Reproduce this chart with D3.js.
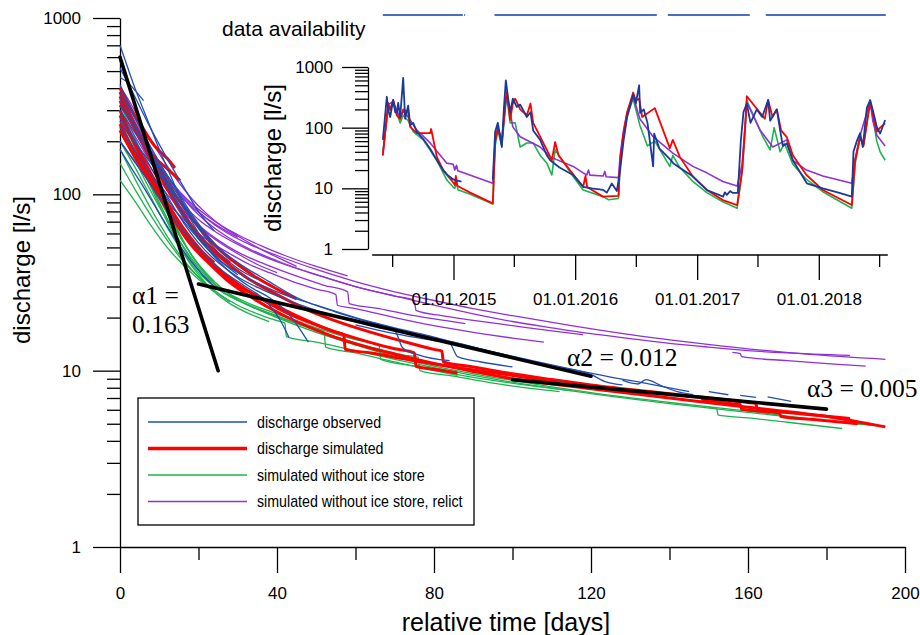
<!DOCTYPE html>
<html>
<head>
<meta charset="utf-8">
<script src="https://cdn.jsdelivr.net/npm/d3@7"></script>
<style>
body{margin:0;background:#fff}
svg{display:block;font-family:"Liberation Sans",Arial,sans-serif}
</style>
</head>
<body>
<svg width="920" height="635"></svg>
<script>
// ---- main chart: recession curves, [day, discharge l/s] ----
var obsCurves = [
  [[0,700],[2,520],[4,390],[7,265],[10,180],[14,112],[18,72],[22,52],[26,41]],
  [[0,460],[2,430],[4,385],[6,340]],
  [[0,420],[3,300],[6,215],[9,155],[12,112],[16,76],[20,56],[24,45],[30,35]],
  [[0,350],[3,265],[6,200],[10,140],[14,96],[18,67],[22,50],[27,38],[33,30],[38,26],[43,21],[46,17],[48,14.5]],
  [[0,300],[4,220],[8,160],[12,118],[16,86],[20,64],[25,47],[30,38],[35,33]],
  [[0,260],[3,205],[6,170],[10,130],[14,100],[18,76]],
  [[0,320],[4,235],[8,170],[12,124],[16,90],[20,66],[25,50],[30,41],[38,32],[45,26],[55,21.5],[65,18.5],[75,16.2],[85,14.5],[95,12.8],[105,11.4],[115,10.2],[125,9.2],[135,8.4],[145,7.6]],
  [[0,240],[5,160],[10,110],[15,76],[20,56],[25,43],[32,34],[40,28],[50,23.5],[60,20],[70,17.5],[80,15.5],[90,13.6],[100,12],[110,10.6],[120,9.5],[124,8.6],[128,8.3]],
  [[0,200],[5,140],[10,96],[15,67],[20,49],[26,37],[32,30],[37,25],[41,19],[43,15.5]],
  [[0,380],[3,290],[7,200],[11,140],[15,101],[19,73],[23,56],[28,43]],
  [[0,520],[2,430],[5,315],[8,232],[12,160],[16,112],[20,80],[24,62]],
  [[0,280],[4,200],[8,140],[12,98],[16,70],[20,53],[25,41],[30,34],[36,29],[42,25.5],[50,22],[58,19.5],[66,17.5],[70,16.8],[72,13.5],[76,12.3],[84,11.4]],
  [[0,180],[3,140],[6,110],[9,85],[12,66],[15,52],[18,42],[21,35],[24,30]],
  [[60,18.2],[70,16.2],[80,14.8],[84,14.3],[86,12],[92,11.2],[100,10.5]],
  [[128,8.8],[132,8.4],[134,8.9],[138,8.2],[142,7.6],[146,7.3]],
  [[150,7.6],[155,7.3]], [[158,7.25],[162,7.05]], [[165,7.1],[171,6.7]]
];
var simCurves = [
  [[0,400],[3,300],[6,232],[9,186],[12,160],[14,141]],
  [[0,340],[3,252],[6,192],[9,160],[12,140],[15.3,120]],
  [[0,300],[3,210],[6,150],[10,100],[14,70],[18,52],[22,42],[27,33],[33,26.5],[40,21.5],[50,17],[60,14.2],[70,12.4],[80,11],[90,9.9],[100,9],[110,8.4],[120,7.9],[140,7],[160,6.2],[180,5.5],[195,4.8]],
  [[0,280],[4,190],[8,130],[12,90],[16,65],[20,50],[25,38],[30,31],[36,25.5],[44,20.5],[52,17.5],[60,15.3],[70,13.3],[75,12.6],[75.4,10.6],[80,10.2],[86,9.7]],
  [[0,360],[3,260],[6,190],[10,130],[14,90],[18,66],[22,52],[26,43],[32,34],[40,27],[48,22],[56,18.8],[64,16.5],[72,14.7],[80,13.2],[82,12.9],[82.4,11.2],[90,10.5],[100,9.6],[110,8.9],[120,8.3],[140,7.4],[160,6.6],[162,6.5],[162.4,6.0],[170,5.8],[186,5.35]],
  [[0,250],[4,170],[8,120],[12,85],[16,62],[20,48],[25,37],[30,30.5],[38,24.5],[46,20],[55,16.5],[57,16],[57.4,13.2],[64,12.6],[72,11.7],[80,10.9],[90,10.1],[100,9.4],[112,8.6]],
  [[0,320],[2,280],[4,230],[7,170],[10,130],[13,100],[16,79],[19,63],[22,53],[25,46],[28,41]],
  [[0,380],[2,300],[4,242],[7,182],[10,140],[14,100],[18,75],[22,58],[26,47],[30,40],[35,33.5],[40,29],[45,25.5]],
  [[0,230],[3,175],[6,135],[9,105],[12,82],[15,66],[18,55],[21,47],[24,41]],
  [[148,6.9],[156,6.5],[158,6.45],[158.4,6.05],[165,5.85],[168,5.75],[168.4,5.5],[178,5.25],[188,5.0]]
];
var noIceCurves = [
  [[0,300],[3,220],[6,160],[9,116],[12,83],[15,61],[18,46],[21,37],[24,31],[27,27]],
  [[0,250],[4,170],[8,115],[12,78],[16,54],[20,40],[24,32],[28,27],[32,24],[40,20],[50,16.5],[60,14],[70,12],[80,10.6],[90,9.6],[100,8.8],[110,8.1],[120,7.5],[140,6.6],[160,5.9],[180,5.2],[194,4.85]],
  [[0,200],[4,140],[8,95],[12,65],[16,47],[20,36],[25,29],[30,25],[38,21],[46,18.2],[52,16.6],[52.4,13.6],[60,12.6],[70,11.2],[80,10],[86,9.4]],
  [[0,280],[3,200],[6,140],[10,90],[14,60],[18,43],[22,33],[26,28],[32,24],[40,20.5],[48,17.5],[56,15.3],[64,13.6],[72,12.3],[76,11.9],[76.4,10],[85,9.3],[95,8.5],[105,7.9],[112,7.6]],
  [[0,180],[4,120],[8,82],[12,58],[16,43],[20,34],[25,27.5],[30,23.5],[35,21],[40,19.2],[42,18.6],[42.4,15.6],[50,14.5],[60,13],[70,11.6],[80,10.4],[90,9.4],[100,8.6],[120,7.4],[140,6.5],[160,5.8],[180,5.2],[191,4.95]],
  [[0,150],[4,105],[8,75],[12,55],[16,42],[20,34],[24,28.5],[28,24.5]],
  [[0,320],[2,260],[5,180],[8,125],[11,90],[14,66],[17,50],[20,40],[24,32]],
  [[0,230],[3,170],[6,125],[10,85],[14,60],[18,44],[22,34],[27,28],[33,24],[40,21],[50,17.5],[60,15],[66,14],[66.4,11.6],[75,10.6],[85,9.6],[95,8.8],[105,8.2],[115,7.7]],
  [[150,6.2],[152,6.1],[152.4,5.6],[160,5.4],[170,5.1],[184,4.7]],
  [[0,260],[3,190],[6,135],[9,97],[12,70],[15,52],[18,40],[21,33],[24,28],[28,24],[33,21],[38,19]],
  [[0,120],[4,90],[8,66],[12,50],[16,40],[20,33],[24,28]]
];
var relictCurves = [
  [[0,410],[3,320],[6,240],[10,170],[14,125],[18,96],[22,78],[26,66],[30,58],[35,50],[40,44],[45,39]],
  [[0,380],[3,280],[6,210],[10,150],[14,110],[18,85],[22,70],[27,58],[33,49],[40,42],[50,35],[60,30],[70,26.5],[80,23.5],[90,21],[100,19],[110,17.5],[120,16.2],[130,15.2],[140,14.3],[150,13.6],[160,13],[170,12.6],[186,12.2]],
  [[0,350],[3,260],[6,200],[10,145],[14,110],[18,88],[22,73],[27,61],[33,52],[40,45],[50,37.5],[60,32],[70,28],[80,25],[90,22.5],[100,20.5],[115,18],[130,16],[145,14.5],[160,13.3],[175,12.4],[195,11.6]],
  [[0,300],[4,210],[8,150],[12,112],[16,88],[20,72],[25,60],[30,52],[35,46],[42,40],[50,35],[60,30],[70,26.5],[75,25],[75.4,22],[82,20.5],[90,19.3],[100,18],[110,16.8],[118,16]],
  [[0,270],[4,190],[8,140],[12,105],[16,82],[20,67],[25,55],[30,47],[36,41],[44,35],[52,30.5],[58,28],[58.4,24],[66,22.5],[75,20.5],[88,18.5]],
  [[156,12.7],[158,12.5],[158.4,12],[170,11.4],[182,10.9],[190,10.6]],
  [[0,330],[3,250],[6,190],[9,150],[12,120],[15,100],[18,86],[21,76],[25,66],[30,57]],
  [[0,240],[4,175],[8,130],[12,100],[16,80],[20,66],[25,54],[30,46],[35,40],[40,36]],
  [[0,200],[4,150],[8,115],[12,90],[16,73],[20,60],[24,52],[28,46],[33,40],[38,36],[44,32],[50,29],[55,27],[55.4,23.5],[60,22.5],[70,20],[80,18],[90,16.5],[100,15.3],[108,14.5]],
  [[0,360],[3,270],[6,205],[9,160],[12,128],[15,105],[18,90],[22,76],[26,66],[30,59],[36,51],[42,45],[50,39],[58,34.5]]
];
// fitted recession slopes
var alphaLines = [
  [[0,600],[25,10]],
  [[20,31],[120,9.3]],
  [[100,8.9],[180,6.05]]
];
var alphaLabels = ['\u03B11 =', '0.163', '\u03B12 = 0.012', '\u03B13 = 0.005'];
var xMajor = [0,40,80,120,160,200];
var xMinor = [20,60,100,140,180];
var yMajor = [1,10,100,1000];

// ---- inset: time series [date, l/s] ----
var obsSeries = [
  ['2014-06-03',63],['2014-06-15',323],['2014-06-19',200],['2014-06-25',150],['2014-07-04',286],['2014-07-10',180],
  ['2014-07-15',175],['2014-07-19',256],['2014-07-25',150],['2014-08-03',660],['2014-08-09',140],['2014-08-18',230],
  ['2014-08-24',110],['2014-09-02',120],['2014-09-13',85],['2014-10-02',65],['2014-10-23',45],['2014-11-12',29],
  ['2014-12-01',20],['2014-12-12',17],['2014-12-31',14],['2015-01-10',13.5],['2015-01-25',12.9]
];
var obsSeries2 = [
  ['2015-04-29',14],['2015-05-06',86],['2015-05-14',120],['2015-05-26',48],['2015-06-01',200],['2015-06-07',600],
  ['2015-06-14',300],['2015-06-20',180],['2015-06-28',300],['2015-07-05',250],['2015-07-10',220],['2015-07-20',240],
  ['2015-08-09',150],['2015-08-20',180],['2015-08-28',90],['2015-09-18',63],['2015-10-08',35],['2015-10-18',29],
  ['2015-11-15',22],['2015-12-26',16.6],['2016-01-25',10.6],['2016-02-20',10],['2016-03-25',9.4],['2016-04-05',8.5],
  ['2016-04-20',12],['2016-05-05',9],['2016-05-15',20],['2016-05-25',60],['2016-06-05',150],['2016-06-23',350],
  ['2016-07-01',250],['2016-07-11',500],['2016-07-14',175],['2016-07-25',200],['2016-08-05',120],['2016-08-22',23],
  ['2016-08-25',80],['2016-09-10',45],['2016-10-12',30],['2016-10-21',26],['2016-11-20',20],['2016-12-20',15.6],
  ['2017-01-30',9.4],['2017-03-20',7.3],['2017-03-25',8.6],['2017-03-31',7.8],['2017-04-10',9],['2017-04-18',8.4],
  ['2017-05-03',8.4],['2017-05-12',60],['2017-05-20',180],['2017-05-30',250],['2017-06-10',120],['2017-06-29',200],
  ['2017-07-15',150],['2017-08-02',286],['2017-08-08',130],['2017-08-28',200],['2017-09-07',90],['2017-09-15',50],
  ['2017-09-27',55],['2017-10-15',29],['2017-11-26',12.1],['2018-01-13',10],['2018-03-01',8.5],['2018-04-10',7.3],
  ['2018-04-15',40],['2018-04-25',60],['2018-05-05',81],['2018-05-13',48],['2018-05-25',210],['2018-06-04',286],
  ['2018-06-12',195],['2018-06-24',103],['2018-07-04',80],['2018-07-19',134]
];
var simSeries = [
  ['2014-06-03',35],['2014-06-19',256],['2014-06-25',195],['2014-07-04',286],['2014-07-15',160],['2014-07-25',140],
  ['2014-08-03',200],['2014-08-18',180],['2014-08-24',103],['2014-09-13',81],['2014-10-23',81],['2014-10-26',95],
  ['2014-11-12',33],['2014-12-01',20],['2014-12-31',12.5],['2015-01-05',11.3],['2015-01-08',16],['2015-01-12',11],
  ['2015-02-20',8.5],['2015-04-29',5.66],['2015-05-06',60],['2015-05-14',100],['2015-05-26',60],['2015-06-07',300],
  ['2015-06-10',390],['2015-06-20',134],['2015-06-28',250],['2015-07-05',300],['2015-07-20',200],['2015-08-09',160],
  ['2015-08-20',250],['2015-08-28',120],['2015-09-18',71],['2015-10-08',43],['2015-10-23',29],['2015-11-02',58],
  ['2015-11-12',35],['2015-12-26',17],['2016-01-25',10.6],['2016-02-01',16],['2016-02-06',10.5],['2016-03-24',7.3],
  ['2016-05-10',7.5],['2016-05-15',30],['2016-05-25',80],['2016-06-05',180],['2016-06-23',380],['2016-07-01',280],
  ['2016-07-11',300],['2016-07-20',150],['2016-08-27',210],['2016-10-11',46],['2016-10-20',63],['2016-11-10',33],
  ['2016-12-19',15.6],['2017-01-30',9.4],['2017-03-19',6.4],['2017-05-01',5.3],['2017-05-16',20],['2017-05-25',103],
  ['2017-05-30',330],['2017-07-23',140],['2017-08-02',286],['2017-08-15',150],['2017-08-28',200],['2017-09-10',90],
  ['2017-09-27',70],['2017-10-15',35],['2017-11-25',16.6],['2018-01-13',9.4],['2018-04-10',5.3],['2018-04-20',29],
  ['2018-05-05',71],['2018-05-15',50],['2018-06-04',270],['2018-06-12',170],['2018-06-24',86],['2018-07-04',100],
  ['2018-07-19',118]
];
var noIceSeries = [
  ['2014-06-03',40],['2014-06-19',200],['2014-07-04',250],['2014-07-25',120],['2014-08-03',160],['2014-08-18',130],
  ['2014-09-02',86],['2014-10-02',63],['2014-11-12',29],['2014-12-12',13.7],['2014-12-31',10.5],['2015-01-05',10],
  ['2015-01-10',14],['2015-01-14',9.5],['2015-02-20',8],['2015-04-29',5.5],['2015-05-06',50],['2015-05-14',90],
  ['2015-05-26',50],['2015-06-07',250],['2015-06-10',330],['2015-06-20',120],['2015-07-05',120],['2015-07-20',48],
  ['2015-08-09',56],['2015-08-28',56],['2015-09-18',35],['2015-10-08',26],['2015-10-23',16.6],['2015-11-02',43],
  ['2015-12-26',15.6],['2016-01-25',9.4],['2016-03-25',7.3],['2016-04-10',6.5],['2016-05-10',6.8],['2016-05-15',25],
  ['2016-05-25',70],['2016-06-05',160],['2016-06-23',300],['2016-07-13',110],['2016-08-05',50],['2016-08-27',60],
  ['2016-10-11',23],['2016-10-20',35],['2016-11-10',22],['2016-12-19',13],['2017-01-30',8.5],['2017-03-19',6],
  ['2017-05-01',4.7],['2017-05-16',18],['2017-05-25',90],['2017-05-30',280],['2017-07-17',71],['2017-08-08',43],
  ['2017-08-20',100],['2017-09-07',40],['2017-09-20',55],['2017-10-15',25],['2017-11-25',14],['2018-01-13',8.8],
  ['2018-04-10',4.7],['2018-04-20',25],['2018-05-05',70],['2018-05-15',50],['2018-06-04',260],['2018-06-12',150],
  ['2018-06-24',60],['2018-07-04',40],['2018-07-19',29]
];
var relictSeries = [
  ['2014-06-03',35],['2014-06-19',240],['2014-07-04',270],['2014-07-25',140],['2014-08-03',190],['2014-08-18',150],
  ['2014-09-13',91],['2014-10-23',56],['2014-12-12',26],['2014-12-31',25],['2015-01-05',20],['2015-01-10',24],
  ['2015-01-14',19.5],['2015-04-29',12.1],['2015-05-06',60],['2015-05-14',100],['2015-05-26',60],['2015-06-07',280],
  ['2015-06-10',350],['2015-06-28',103],['2015-07-20',71],['2015-09-18',48],['2015-10-18',33],['2015-12-26',23],
  ['2016-01-25',18],['2016-02-05',16.6],['2016-02-10',20],['2016-02-14',16.5],['2016-03-25',16],['2016-03-30',19],
  ['2016-04-03',15.5],['2016-05-10',15],['2016-05-15',35],['2016-05-25',90],['2016-06-05',180],['2016-06-23',330],
  ['2016-07-13',140],['2016-08-22',71],['2016-10-20',38],['2016-12-19',23],['2017-01-30',18],['2017-03-19',13],
  ['2017-05-01',10.9],['2017-05-16',25],['2017-05-25',110],['2017-05-30',260],['2017-07-09',91],['2017-08-16',48],
  ['2017-09-27',63],['2017-10-15',29],['2017-11-25',20],['2018-01-13',16],['2018-04-10',12.1],['2018-04-20',30],
  ['2018-05-05',75],['2018-06-04',270],['2018-06-12',130],['2018-06-24',75],['2018-07-19',50]
];
var availability = [
  ['2014-06-03','2015-01-29'],['2015-02-02','2015-02-05'],['2015-05-04','2016-09-02'],
  ['2016-10-05','2017-06-08'],['2017-07-26','2018-07-21']
];
var insetMajor = ['2015-01-01','2016-01-01','2017-01-01','2018-01-01'];
var insetMinor = ['2014-07-01','2015-07-01','2016-07-01','2017-07-01','2018-07-01'];
var insetExtent = ['2014-05-02','2018-07-27'];

var legendLabels = ['discharge observed','discharge simulated','simulated without ice store','simulated without ice store, relict'];

var cBlue = '#1f4fb3', cRed = '#ff0000', cGreen = '#1db34f', cPurple = '#9030d8', cInBlue = '#1a3a9a';

var svg = d3.select('svg');
var parse = d3.timeParse('%Y-%m-%d');

var x = d3.scaleLinear().domain([0,200]).range([120,905]);
var y = d3.scaleLog().domain([1,1000]).range([547,18]);

var minorY = [];
[1,10,100].forEach(function(b){ for (var k=2;k<10;k++) minorY.push(b*k); });

// main axes
var gx = svg.append('g').attr('transform','translate(0,547)');
gx.call(d3.axisBottom(x).tickValues(xMajor).tickSize(26).tickSizeOuter(0).tickPadding(14));
svg.append('g').attr('transform','translate(0,547)')
  .call(d3.axisBottom(x).tickValues(xMinor).tickSize(13).tickFormat('')).select('.domain').remove();
var gy = svg.append('g').attr('transform','translate(120,0)');
gy.call(d3.axisLeft(y).tickValues(yMajor).tickSize(27).tickSizeOuter(0).tickPadding(12).tickFormat(d3.format('d')));
svg.append('g').attr('transform','translate(120,0)')
  .call(d3.axisLeft(y).tickValues(minorY).tickSize(13).tickFormat('')).select('.domain').remove();

svg.append('text').attr('x',506).attr('y',631).attr('text-anchor','middle')
  .attr('font-size',25).text('relative time [days]');
svg.append('text').attr('transform','translate(30,270) rotate(-90)').attr('text-anchor','middle')
  .attr('font-size',24).text('discharge [l/s]');

// main curves
var line = d3.line().x(function(d){return x(d[0]);}).y(function(d){return y(d[1]);}).curve(d3.curveMonotoneX);
function drawSet(curves, color, w) {
  svg.append('g').selectAll('path').data(curves).enter().append('path')
    .attr('d', line).attr('fill','none').attr('stroke', color).attr('stroke-width', w)
    .attr('stroke-linejoin','round');
}
drawSet(noIceCurves, cGreen, 1.3);
drawSet(relictCurves, cPurple, 1.3);
drawSet(simCurves, cRed, 3);
drawSet(obsCurves, cBlue, 1.3);

svg.append('g').selectAll('path').data(alphaLines).enter().append('path')
  .attr('d', d3.line().x(function(d){return x(d[0]);}).y(function(d){return y(d[1]);}))
  .attr('stroke','#000').attr('stroke-width',3.6).attr('stroke-linecap','round').attr('fill','none');

var serif = '"Liberation Serif","Times New Roman",serif';
svg.append('text').attr('x',132).attr('y',304).attr('font-family',serif).attr('font-size',25.5).text(alphaLabels[0]);
svg.append('text').attr('x',132).attr('y',333).attr('font-family',serif).attr('font-size',25.5).text(alphaLabels[1]);
svg.append('text').attr('x',567).attr('y',366).attr('font-family',serif).attr('font-size',25.5).text(alphaLabels[2]);
svg.append('text').attr('x',807).attr('y',397).attr('font-family',serif).attr('font-size',25.5).text(alphaLabels[3]);

// legend
var lg = svg.append('g');
lg.append('rect').attr('x',138).attr('y',398).attr('width',336).attr('height',127)
  .attr('fill','#fff').attr('stroke','#000').attr('stroke-width',1.3);
var legColors = [cBlue, cRed, cGreen, cPurple], legW = [1.3, 3.5, 1.3, 1.3];
legendLabels.forEach(function(t, i) {
  var ly = 422 + i*26.5;
  lg.append('line').attr('x1',148).attr('x2',247).attr('y1',ly).attr('y2',ly)
    .attr('stroke',legColors[i]).attr('stroke-width',legW[i]);
  // condensed face: squeeze the regular sans horizontally
  lg.append('text').attr('transform','translate(257,' + (ly+5.5) + ') scale(0.89,1)').attr('font-size',16).text(t);
});

// ---- inset ----
var xi = d3.scaleTime().domain([parse('2015-01-01'), parse('2018-01-01')]).range([453.5, 818.8]);
var yi = d3.scaleLog().domain([1,1000]).range([249,67]);

var gi = svg.append('g').attr('transform','translate(0,255)');
gi.call(d3.axisBottom(xi).tickValues(insetMajor.map(parse)).tickSize(25).tickPadding(13)
  .tickFormat(d3.timeFormat('%d.%m.%Y')));
gi.select('.domain').remove();
svg.append('g').attr('transform','translate(0,255)')
  .call(d3.axisBottom(xi).tickValues(insetMinor.map(parse)).tickSize(12).tickFormat('')).select('.domain').remove();
svg.append('line').attr('x1',xi(parse(insetExtent[0]))).attr('x2',xi(parse(insetExtent[1])))
  .attr('y1',255).attr('y2',255).attr('stroke','#000').attr('stroke-width',1.3);

var giy = svg.append('g').attr('transform','translate(368,0)');
giy.call(d3.axisLeft(yi).tickValues(yMajor).tickSize(26).tickSizeOuter(0).tickPadding(9).tickFormat(d3.format('d')));
svg.append('g').attr('transform','translate(368,0)')
  .call(d3.axisLeft(yi).tickValues(minorY).tickSize(13).tickFormat('')).select('.domain').remove();

svg.append('text').attr('transform','translate(281,158) rotate(-90)').attr('text-anchor','middle')
  .attr('font-size',24).text('discharge [l/s]');

var iline = d3.line().x(function(d){return xi(parse(d[0]));}).y(function(d){return yi(d[1]);});
function drawIn(data, color, w) {
  svg.append('path').datum(data).attr('d', iline).attr('fill','none')
    .attr('stroke', color).attr('stroke-width', w).attr('stroke-linejoin','round');
}
drawIn(noIceSeries, cGreen, 1.6);
drawIn(relictSeries, cPurple, 1.6);
drawIn(simSeries, cRed, 1.8);
drawIn(obsSeries, cInBlue, 1.8);
drawIn(obsSeries2, cInBlue, 1.8);

// data availability
svg.append('text').attr('x',222).attr('y',36).attr('font-size',21).text('data availability');
svg.append('g').selectAll('line').data(availability).enter().append('line')
  .attr('x1', function(d){return xi(parse(d[0]));}).attr('x2', function(d){return xi(parse(d[1]));})
  .attr('y1',15).attr('y2',15).attr('stroke','#4a6cc4').attr('stroke-width',2);

svg.selectAll('.tick text').attr('font-size',17).attr('font-family','"Liberation Sans",Arial,sans-serif').attr('fill','#000');
svg.selectAll('.tick line, .domain').attr('stroke','#000').attr('stroke-width',1.3);
</script>
</body>
</html>
